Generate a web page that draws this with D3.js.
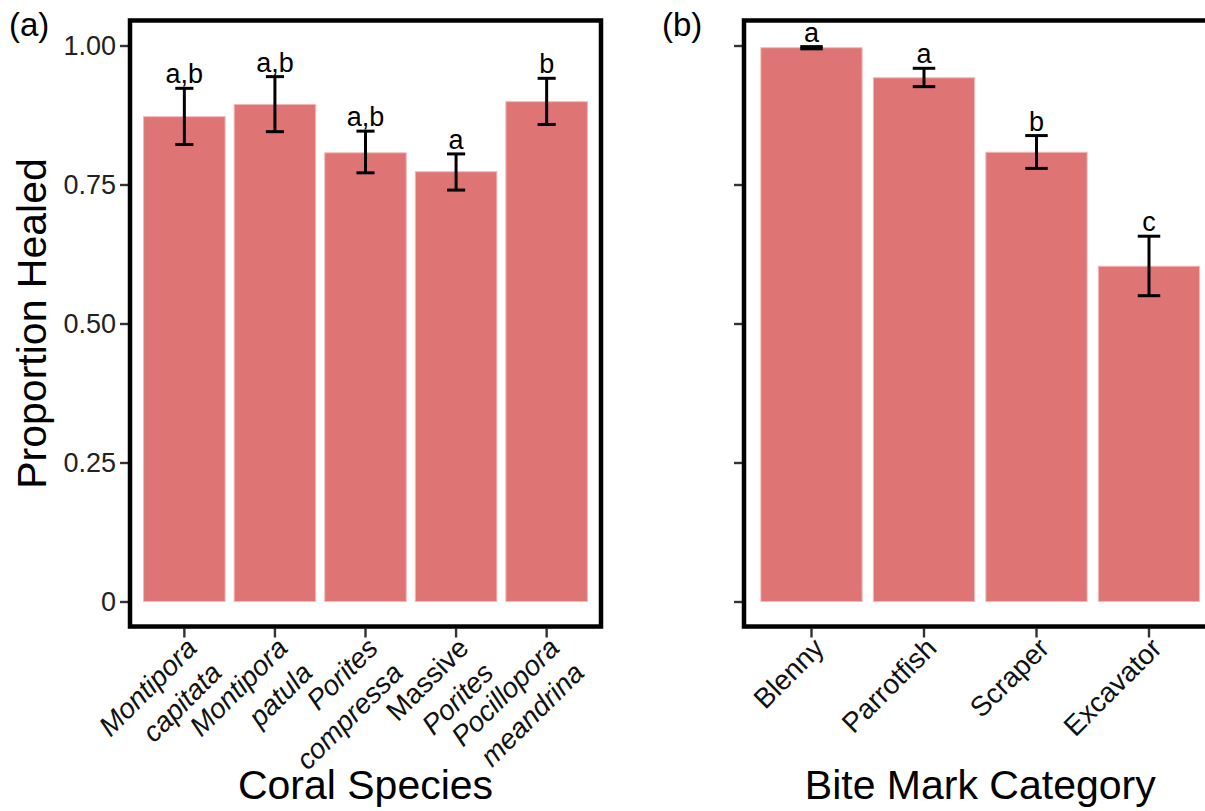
<!DOCTYPE html>
<html>
<head>
<meta charset="utf-8">
<script src="https://cdn.jsdelivr.net/npm/d3@7"></script>
<style>
  html, body { margin: 0; padding: 0; background: #fff; }
  svg { display: block; font-family: "Liberation Sans", Arial, sans-serif; }
</style>
</head>
<body>
<svg id="chart" width="1205" height="811"></svg>
<script>
// ---- data ----
const coralSpecies = [["Montipora", "capitata"], ["Montipora", "patula"], ["Porites", "compressa"], ["Massive", "Porites"], ["Pocillopora", "meandrina"]];
const coralMean  = [0.872, 0.894, 0.807, 0.773, 0.899];
const coralLower = [0.822, 0.845, 0.771, 0.740, 0.858];
const coralUpper = [0.923, 0.944, 0.846, 0.805, 0.941];
const coralLetters = ["a,b", "a,b", "a,b", "a", "b"];
const nonItalicWords = ["Massive"];

const biteCategories = ["Blenny", "Parrotfish", "Scraper", "Excavator"];
const biteMean  = [0.996, 0.942, 0.808, 0.603];
const biteLower = [0.994, 0.926, 0.779, 0.550];
const biteUpper = [0.998, 0.959, 0.838, 0.657];
const biteLetters = ["a", "a", "b", "c"];

const yTicks = [0, 0.25, 0.5, 0.75, 1];
const yTickLabels = ["0", "0.25", "0.50", "0.75", "1.00"];

// ---- layout ----
const svg = d3.select("#chart");
const y = d3.scaleLinear().domain([0, 1]).range([601.5, 45.5]);
const panelTop = y(1.045), panelBottom = y(-0.045);
const barFill = "#DE7474";

function drawPanel(opts) {
  const { x0, x1, cats, labels, mean, lower, upper, letters, showYLabels, title, tag, tagX } = opts;
  const g = svg.append("g");
  const x = d3.scaleBand().domain(cats).range([x0, x1]).paddingInner(0.1).paddingOuter(0.15);
  const step = x.step();
  const data = cats.map((c, i) => ({ c, m: mean[i], lo: lower[i], hi: upper[i], l: letters[i], lab: labels[i] }));

  // bars
  g.selectAll("rect.bar").data(data).join("rect")
    .attr("class", "bar")
    .attr("x", d => x(d.c))
    .attr("width", x.bandwidth())
    .attr("y", d => y(d.m))
    .attr("height", d => y(0) - y(d.m))
    .attr("fill", barFill)
    .attr("stroke", "#F2B8B8")
    .attr("stroke-width", 1);

  // error bars
  const cx = d => x(d.c) + x.bandwidth() / 2;
  const capW = 0.2 * step;
  const eb = g.selectAll("g.eb").data(data).join("g").attr("class", "eb")
    .attr("stroke", "#000").attr("stroke-width", 3);
  eb.append("line").attr("x1", cx).attr("x2", cx).attr("y1", d => y(d.lo)).attr("y2", d => y(d.hi));
  eb.append("line").attr("x1", d => cx(d) - capW / 2).attr("x2", d => cx(d) + capW / 2).attr("y1", d => y(d.lo)).attr("y2", d => y(d.lo));
  eb.append("line").attr("x1", d => cx(d) - capW / 2).attr("x2", d => cx(d) + capW / 2).attr("y1", d => y(d.hi)).attr("y2", d => y(d.hi));

  // significance letters
  g.selectAll("text.sig").data(data).join("text")
    .attr("class", "sig")
    .attr("x", cx)
    .attr("y", d => y(d.hi) - 5)
    .attr("text-anchor", "middle")
    .attr("font-size", 27)
    .attr("fill", "#000")
    .text(d => d.l);

  // y axis ticks
  const yAxis = d3.axisLeft(y).tickValues(yTicks)
    .tickFormat((d, i) => showYLabels ? yTickLabels[i] : "")
    .tickSize(8).tickPadding(4);
  const ya = g.append("g").attr("transform", `translate(${x0 - 2},0)`).call(yAxis);
  ya.select(".domain").remove();
  ya.selectAll(".tick line").attr("stroke", "#333").attr("stroke-width", 2.4);
  ya.selectAll(".tick text").attr("font-size", 27).attr("fill", "#222")
    .attr("font-family", "Liberation Sans, Arial, sans-serif");

  // x axis ticks
  const xAxis = d3.axisBottom(x).tickSize(9).tickFormat("");
  const xa = g.append("g").attr("transform", `translate(0,${panelBottom + 2})`).call(xAxis);
  xa.select(".domain").remove();
  xa.selectAll(".tick line").attr("stroke", "#333").attr("stroke-width", 2.4);

  // rotated x labels
  const fs = 28, lh = 35;
  const lg = g.selectAll("g.xl").data(data).join("g").attr("class", "xl")
    .attr("transform", d => `translate(${cx(d)},${panelBottom + 9}) rotate(-45)`);
  lg.each(function(d) {
    const lines = Array.isArray(d.lab) ? d.lab : [d.lab];
    const sel = d3.select(this);
    lines.forEach((ln, i) => {
      sel.append("text")
        .attr("x", 0)
        .attr("y", fs * 0.72 + i * lh)
        .attr("text-anchor", "end")
        .attr("font-size", fs)
        .attr("fill", "#111")
        .attr("font-style", Array.isArray(d.lab) && !nonItalicWords.includes(ln) ? "italic" : "normal")
        .text(ln);
    });
  });

  // frame
  g.append("rect")
    .attr("x", x0).attr("y", panelTop)
    .attr("width", x1 - x0).attr("height", panelBottom - panelTop)
    .attr("fill", "none").attr("stroke", "#000").attr("stroke-width", 4.5);

  // axis title
  g.append("text")
    .attr("x", (x0 + x1) / 2).attr("y", 799)
    .attr("text-anchor", "middle").attr("font-size", 41).attr("fill", "#000")
    .text(title);

  // panel tag
  g.append("text").attr("x", tagX).attr("y", 36).attr("font-size", 33).attr("fill", "#000").text(tag);
}

drawPanel({
  x0: 130, x1: 601, cats: coralSpecies.map(d => d.join(" ")), labels: coralSpecies,
  mean: coralMean, lower: coralLower, upper: coralUpper, letters: coralLetters,
  showYLabels: true, title: "Coral Species", tag: "(a)", tagX: 9
});
drawPanel({
  x0: 744, x1: 1216.5, cats: biteCategories, labels: biteCategories,
  mean: biteMean, lower: biteLower, upper: biteUpper, letters: biteLetters,
  showYLabels: false, title: "Bite Mark Category", tag: "(b)", tagX: 662
});

// y axis title
svg.append("text")
  .attr("transform", `translate(46,${y(0.5)}) rotate(-90)`)
  .attr("text-anchor", "middle").attr("font-size", 41).attr("fill", "#000")
  .text("Proportion Healed");
</script>
</body>
</html>
